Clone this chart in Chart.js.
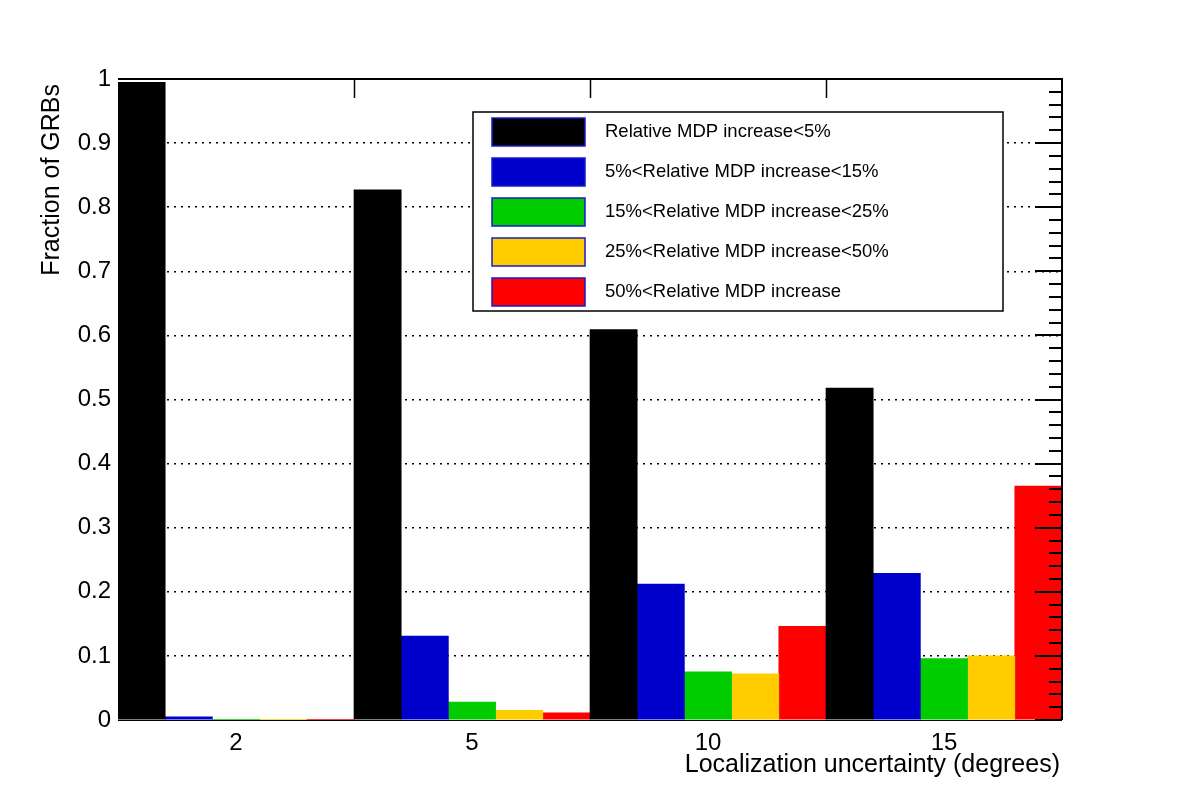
<!DOCTYPE html>
<html>
<head>
<meta charset="utf-8">
<title>Fraction of GRBs vs localization uncertainty</title>
<script src="https://cdn.jsdelivr.net/npm/chart.js@4"></script>
<style>
  html, body { margin: 0; padding: 0; background: #fff; }
  canvas { display: block; }
</style>
</head>
<body>
<canvas id="grbChart" width="1182" height="800"></canvas>
<script>
// categories (localization uncertainty, degrees)
const uncertainties = ['2', '5', '10', '15'];

// series names and colours
const seriesLabels = [
    'Relative MDP increase<5%',
    '5%<Relative MDP increase<15%',
    '15%<Relative MDP increase<25%',
    '25%<Relative MDP increase<50%',
    '50%<Relative MDP increase'
];
const seriesColors = ['#000000', '#0000cc', '#00cc00', '#ffcc00', '#ff0000'];

// fraction of GRBs per series
const mdpBelow5 = [0.995, 0.827, 0.609, 0.518];
const mdp5to15 = [0.005, 0.131, 0.212, 0.229];
const mdp15to25 = [0.001, 0.028, 0.075, 0.096];
const mdp25to50 = [0.001, 0.015, 0.072, 0.100];
const mdpAbove50 = [0.001, 0.011, 0.146, 0.365];

// y axis tick labels
const yTickLabels = ['0', '0.1', '0.2', '0.3', '0.4', '0.5', '0.6', '0.7', '0.8', '0.9', '1'];

const yTitle = 'Fraction of GRBs';
const xTitle = 'Localization uncertainty (degrees)';
const FONT = '"Liberation Sans", Arial, Helvetica, sans-serif';

const seriesValues = [mdpBelow5, mdp5to15, mdp15to25, mdp25to50, mdpAbove50];

// frame, extra ticks, axis titles and the boxed legend, ROOT style
const rootFrame = {
    id: 'rootFrame',
    afterDatasetsDraw(chart) {
        const ctx = chart.ctx;
        const a = chart.chartArea;
        const x = chart.scales.x;
        const y = chart.scales.y;
        ctx.save();

        // frame
        ctx.strokeStyle = '#000';
        ctx.lineWidth = 1;
        ctx.beginPath();
        ctx.moveTo(a.left, a.bottom + 0.5);
        ctx.lineTo(a.right, a.bottom + 0.5);
        ctx.stroke();
        ctx.lineWidth = 2;
        ctx.beginPath();
        ctx.moveTo(a.left, a.top);
        ctx.lineTo(a.right, a.top);
        ctx.lineTo(a.right, a.bottom);
        ctx.stroke();

        // top ticks at category boundaries
        ctx.lineWidth = 1.5;
        for (let i = 1; i < uncertainties.length; i++) {
            const px = Math.round((x.getPixelForValue(i - 1) + x.getPixelForValue(i)) / 2) + 0.5;
            ctx.beginPath();
            ctx.moveTo(px, a.top);
            ctx.lineTo(px, a.top + 19);
            ctx.stroke();
        }

        // right side ticks (major every 0.1, minor every 0.02)
        ctx.lineWidth = 2;
        for (let k = 0; k <= 50; k++) {
            const py = Math.round(y.getPixelForValue(k / 50));
            const len = k % 5 === 0 ? 27 : 13;
            ctx.beginPath();
            ctx.moveTo(a.right - len, py);
            ctx.lineTo(a.right, py);
            ctx.stroke();
        }

        // axis titles
        ctx.fillStyle = '#000';
        ctx.font = '25px ' + FONT;
        ctx.textAlign = 'right';
        ctx.textBaseline = 'middle';
        ctx.fillText(xTitle, a.right - 2, 765);
        ctx.save();
        ctx.translate(52, a.top + 5);
        ctx.rotate(-Math.PI / 2);
        ctx.fillText(yTitle, 0, 0);
        ctx.restore();

        // legend
        const box = { left: 473, top: 112, right: 1003, bottom: 311 };
        ctx.fillStyle = '#fff';
        ctx.fillRect(box.left, box.top, box.right - box.left, box.bottom - box.top);
        ctx.strokeStyle = '#000';
        ctx.lineWidth = 1.5;
        ctx.strokeRect(box.left, box.top, box.right - box.left, box.bottom - box.top);
        ctx.font = '18.5px ' + FONT;
        ctx.textAlign = 'left';
        chart.data.datasets.forEach((ds, i) => {
            const top = 118 + i * 40;
            ctx.fillStyle = ds.backgroundColor;
            ctx.fillRect(492, top, 93, 28);
            ctx.strokeStyle = '#1a1acc';
            ctx.lineWidth = 1.5;
            ctx.strokeRect(492, top, 93, 28);
            ctx.fillStyle = '#000';
            ctx.fillText(ds.label, 605, top + 14);
        });
        ctx.restore();
    }
};

new Chart(document.getElementById('grbChart'), {
    type: 'bar',
    data: {
        labels: uncertainties,
        datasets: seriesLabels.map((label, i) => ({
            label: label,
            data: seriesValues[i],
            backgroundColor: seriesColors[i],
            borderWidth: 0,
            categoryPercentage: 1,
            barPercentage: 1
        }))
    },
    options: {
        responsive: false,
        animation: false,
        devicePixelRatio: 1,
        layout: { padding: { left: 0, top: 79, right: 120, bottom: 0 } },
        plugins: {
            legend: { display: false },
            tooltip: { enabled: false }
        },
        scales: {
            x: {
                grid: { display: false, drawTicks: false },
                border: { display: false },
                ticks: {
                    color: '#000',
                    padding: 9,
                    font: { family: FONT, size: 24 }
                },
                afterFit: scale => { scale.height = 80; }
            },
            y: {
                min: 0,
                max: 1,
                grid: {
                    drawTicks: false,
                    lineWidth: 1.5,
                    color: c => (c.tick && c.tick.value > 0.001 && c.tick.value < 0.999) ? '#000' : 'rgba(0,0,0,0)'
                },
                border: { display: false, dash: [2, 5] },
                ticks: {
                    stepSize: 0.1,
                    color: '#000',
                    padding: 7,
                    font: { family: FONT, size: 24 },
                    callback: (v, i) => yTickLabels[i]
                },
                afterFit: scale => { scale.width = 118; }
            }
        }
    },
    plugins: [rootFrame]
});
</script>
</body>
</html>
